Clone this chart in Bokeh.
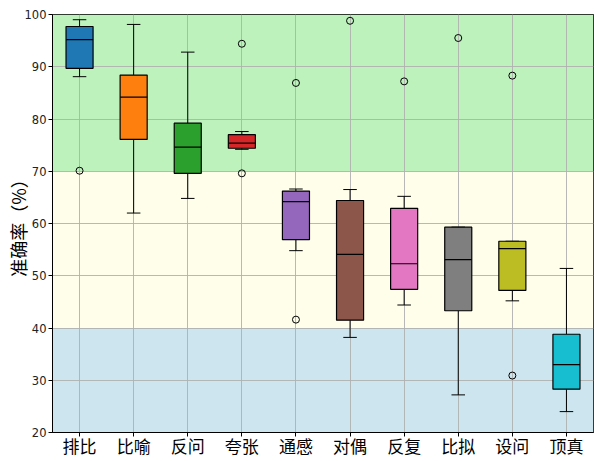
from bokeh.plotting import figure
from bokeh.models import ColumnDataSource, FixedTicker, Range1d
from bokeh.embed import file_html
from bokeh.resources import INLINE

categories = ["排比", "比喻", "反问", "夸张", "通感", "对偶", "反复", "比拟", "设问", "顶真"]
q1 = [89.7, 76.1, 69.6, 74.4, 56.9, 41.5, 47.4, 43.3, 47.2, 28.3]
median = [95.2, 84.2, 74.6, 75.4, 64.2, 54.1, 52.3, 53.1, 55.2, 33.0]
q3 = [97.7, 88.4, 79.2, 77.0, 66.2, 64.4, 62.9, 59.3, 56.6, 38.8]
whisk_lo = [88.1, 62.0, 64.8, 74.2, 54.8, 38.2, 44.4, 27.2, 45.2, 24.0]
whisk_hi = [99.0, 98.1, 92.8, 77.6, 66.6, 66.5, 65.2, 59.3, 56.6, 51.4]
outliers = [[70.1], [], [], [94.4, 69.6], [86.9, 41.6], [98.8], [87.2], [95.5], [88.3, 30.9], []]
colors = ["#1f77b4", "#ff7f0e", "#2ca02c", "#d62728", "#9467bd",
          "#8c564b", "#e377c2", "#7f7f7f", "#bcbd22", "#17becf"]
band_edges = [20, 40, 70, 100]
band_colors = ["#cde5ee", "#fefeea", "#bdf2bd"]

n = len(categories)
xs = list(range(1, n + 1))

p = figure(width=594, height=461, output_backend="svg", toolbar_location=None,
           x_range=Range1d(0.5, n + 0.5), y_range=Range1d(20, 100),
           min_border_left=52, min_border_right=1, min_border_top=14, min_border_bottom=29)
p.background_fill_color = "white"

# background bands
p.quad(left=[0.5] * 3, right=[n + 0.5] * 3, bottom=band_edges[:-1], top=band_edges[1:],
       fill_color=band_colors, line_color=None, level="image")

box_w = 0.5
cap_w = 0.25
src = ColumnDataSource(dict(x=xs, q1=q1, med=median, q3=q3, lo=whisk_lo, hi=whisk_hi, c=colors,
                            xl=[x - box_w / 2 for x in xs], xr=[x + box_w / 2 for x in xs],
                            cl=[x - cap_w / 2 for x in xs], cr=[x + cap_w / 2 for x in xs]))

# whiskers
p.segment(x0="x", y0="q3", x1="x", y1="hi", source=src, line_color="black", line_width=1)
p.segment(x0="x", y0="q1", x1="x", y1="lo", source=src, line_color="black", line_width=1)
p.segment(x0="cl", y0="hi", x1="cr", y1="hi", source=src, line_color="black", line_width=1)
p.segment(x0="cl", y0="lo", x1="cr", y1="lo", source=src, line_color="black", line_width=1)
# boxes
p.vbar(x="x", width=box_w, top="q3", bottom="q1", source=src, fill_color="c",
       line_color="black", line_width=1.2)
# medians
p.segment(x0="xl", y0="med", x1="xr", y1="med", source=src, line_color="black", line_width=1.2)
# outliers
ox, oy = [], []
for x, vals in zip(xs, outliers):
    for v in vals:
        ox.append(x)
        oy.append(v)
p.scatter(ox, oy, marker="circle", size=7, fill_color=None, line_color="black", line_width=1)

# axes
p.xaxis.ticker = FixedTicker(ticks=xs)
p.xaxis.major_label_overrides = {x: c for x, c in zip(xs, categories)}
p.yaxis.ticker = FixedTicker(ticks=list(range(20, 101, 10)))
p.xaxis.major_label_text_font = "Noto Sans CJK SC"
p.xaxis.major_label_text_font_size = "17px"
p.xaxis.major_label_text_color = "black"
p.yaxis.major_label_text_font = "DejaVu Sans"
p.yaxis.major_label_text_font_size = "11.5px"
p.yaxis.major_label_text_color = "#222222"
p.yaxis.axis_label = "准确率（%）"
p.yaxis.axis_label_text_font = "Noto Sans CJK SC"
p.yaxis.axis_label_text_font_size = "18px"
p.yaxis.axis_label_text_font_style = "normal"
p.yaxis.axis_label_text_color = "black"
p.yaxis.axis_label_standoff = -9
for ax in (p.xaxis, p.yaxis):
    ax.axis_line_color = "black"
    ax.major_tick_line_color = "black"
    ax.major_tick_out = 4
    ax.major_tick_in = 0
    ax.minor_tick_line_color = None
p.yaxis.major_label_standoff = 2
p.xaxis.major_label_standoff = -4
p.outline_line_color = "black"
p.outline_line_alpha = 1
p.grid.grid_line_color = "#b0b0b0"
p.grid.grid_line_width = 1
p.grid.grid_line_alpha = 0.9

open("out.html", "w").write(file_html(p, INLINE))
